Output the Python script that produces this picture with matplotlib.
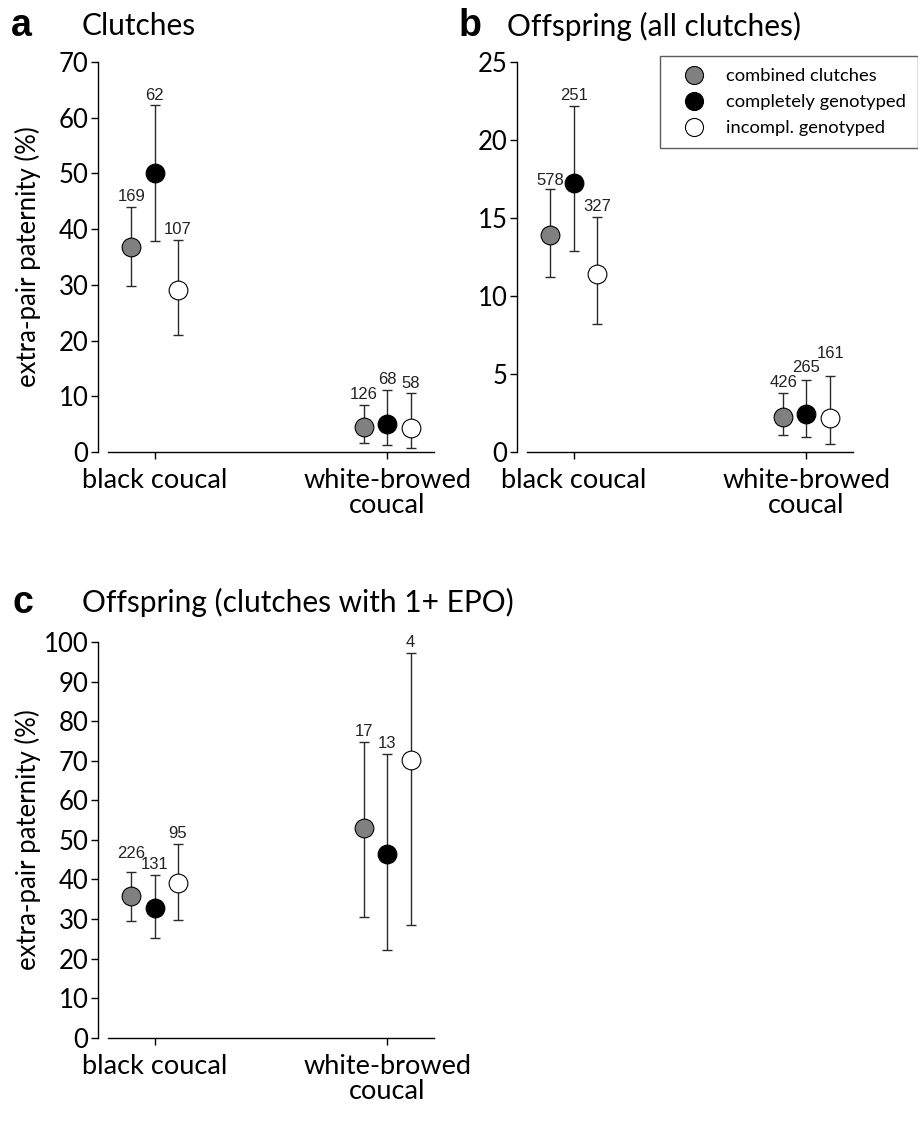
import matplotlib
matplotlib.use('Agg')
import matplotlib.pyplot as plt
from matplotlib.lines import Line2D

# categories and groups
species = ['black coucal', 'white-browed\ncoucal']
groups = ['combined clutches', 'completely genotyped', 'incompl. genotyped']

# panel a: clutches (%)
a_mean = [[36.8, 50.0, 29.1], [4.4, 5.1, 4.3]]
a_low = [[29.7, 37.8, 21.0], [1.6, 1.3, 0.7]]
a_high = [[44.0, 62.2, 38.1], [8.5, 11.1, 10.5]]
a_n = [['169', '62', '107'], ['126', '68', '58']]

# panel b: offspring, all clutches (%)
b_mean = [[13.9, 17.26, 11.41], [2.22, 2.41, 2.16]]
b_low = [[11.2, 12.88, 8.2], [1.07, 0.94, 0.53]]
b_high = [[16.84, 22.16, 15.08], [3.78, 4.6, 4.9]]
b_n = [['578', '251', '327'], ['426', '265', '161']]

# panel c: offspring, clutches with 1+ EPO (%)
c_mean = [[35.7, 32.9, 39.2], [52.9, 46.4, 70.1]]
c_low = [[29.5, 25.3, 29.7], [30.4, 22.2, 28.5]]
c_high = [[41.9, 41.2, 49.0], [74.7, 71.8, 97.3]]
c_n = [['226', '131', '95'], ['17', '13', '4']]

fills = ['#808080', 'black', 'white']
offsets = [-0.1, 0.0, 0.1]

UI = 'Lato'
NUM = 'Liberation Sans'
plt.rcParams['font.family'] = UI


def draw_panel(ax, mean, low, high, n, ymax, ystep, extra_lift):
    for s in range(len(species)):
        for g in range(len(groups)):
            x = s + offsets[g]
            m = mean[s][g]
            ax.errorbar([x], [m], yerr=[[m - low[s][g]], [high[s][g] - m]],
                        fmt='none', ecolor='#2a2a2a', elinewidth=1.0,
                        capsize=3.6, capthick=1.0, zorder=2)
            ax.plot([x], [m], 'o', ms=13.5, mfc=fills[g], mec='black',
                    mew=0.8, zorder=3)
            dx, dy = extra_lift.get((s, g), (0, 0))
            ax.annotate(n[s][g], (x, high[s][g]), xytext=(dx, 7.5 + dy),
                        textcoords='offset points', ha='center', va='center',
                        fontsize=12, family=NUM, color='#222222')
    ax.set_xlim(-0.2, 1.2)
    ax.set_ylim(0, ymax)
    ax.set_yticks(range(0, ymax + 1, ystep))
    ax.set_xticks(range(len(species)))
    ax.set_xticklabels(species, fontsize=19.5, linespacing=1.0)
    ax.tick_params(axis='y', labelsize=18.5, length=5, width=1, pad=2)
    ax.tick_params(axis='x', length=5, width=1, pad=6.5)
    for side in ['top', 'right']:
        ax.spines[side].set_visible(False)
    ax.spines['left'].set_position(('outward', 7))
    ax.spines['left'].set_linewidth(1)
    ax.spines['bottom'].set_linewidth(1)


fig = plt.figure(figsize=(9.18, 11.33), dpi=100)

ax_a = fig.add_axes([0.1176, 0.6011, 0.3551, 0.3442])
draw_panel(ax_a, a_mean, a_low, a_high, a_n, 70, 10, {})
ax_a.set_ylabel('extra-pair paternity (%)', fontsize=18.5)
ax_a.yaxis.set_label_coords(-0.205, 0.5)

ax_b = fig.add_axes([0.5741, 0.6011, 0.3551, 0.3442])
draw_panel(ax_b, b_mean, b_low, b_high, b_n, 25, 5,
           {(0, 0): (0, -1), (1, 1): (0, 2), (1, 2): (1, 8)})

ax_c = fig.add_axes([0.1176, 0.0841, 0.3551, 0.3492])
draw_panel(ax_c, c_mean, c_low, c_high, c_n, 100, 10, {(0, 0): (0, 6)})
ax_c.set_ylabel('extra-pair paternity (%)', fontsize=18.5)
ax_c.yaxis.set_label_coords(-0.205, 0.5)

# legend in panel b
handles = [Line2D([], [], ls='none', marker='o', ms=13, mfc=f, mec='black',
                  mew=0.8) for f in fills]
leg = ax_b.legend(handles, groups, loc='upper right',
                  bbox_to_anchor=(1.2, 1.015), fontsize=13.2, frameon=True,
                  fancybox=False, edgecolor='#333333', borderpad=0.65,
                  handletextpad=0.53, labelspacing=0.55, borderaxespad=0,
                  handlelength=2.45)
leg.get_frame().set_linewidth(1)

# panel letters and titles
fig.text(0.012, 0.977, 'a', fontsize=27, fontweight='bold', family=NUM, va='center')
fig.text(0.089, 0.977, 'Clutches', fontsize=21.5, va='center')
fig.text(0.499, 0.977, 'b', fontsize=27, fontweight='bold', family=NUM, va='center')
fig.text(0.552, 0.977, 'Offspring (all clutches)', fontsize=21.5, va='center')
fig.text(0.014, 0.468, 'c', fontsize=27, fontweight='bold', family=NUM, va='center')
fig.text(0.089, 0.468, 'Offspring (clutches with 1+ EPO)', fontsize=21.5, va='center')

fig.savefig('out.png', dpi=100)
